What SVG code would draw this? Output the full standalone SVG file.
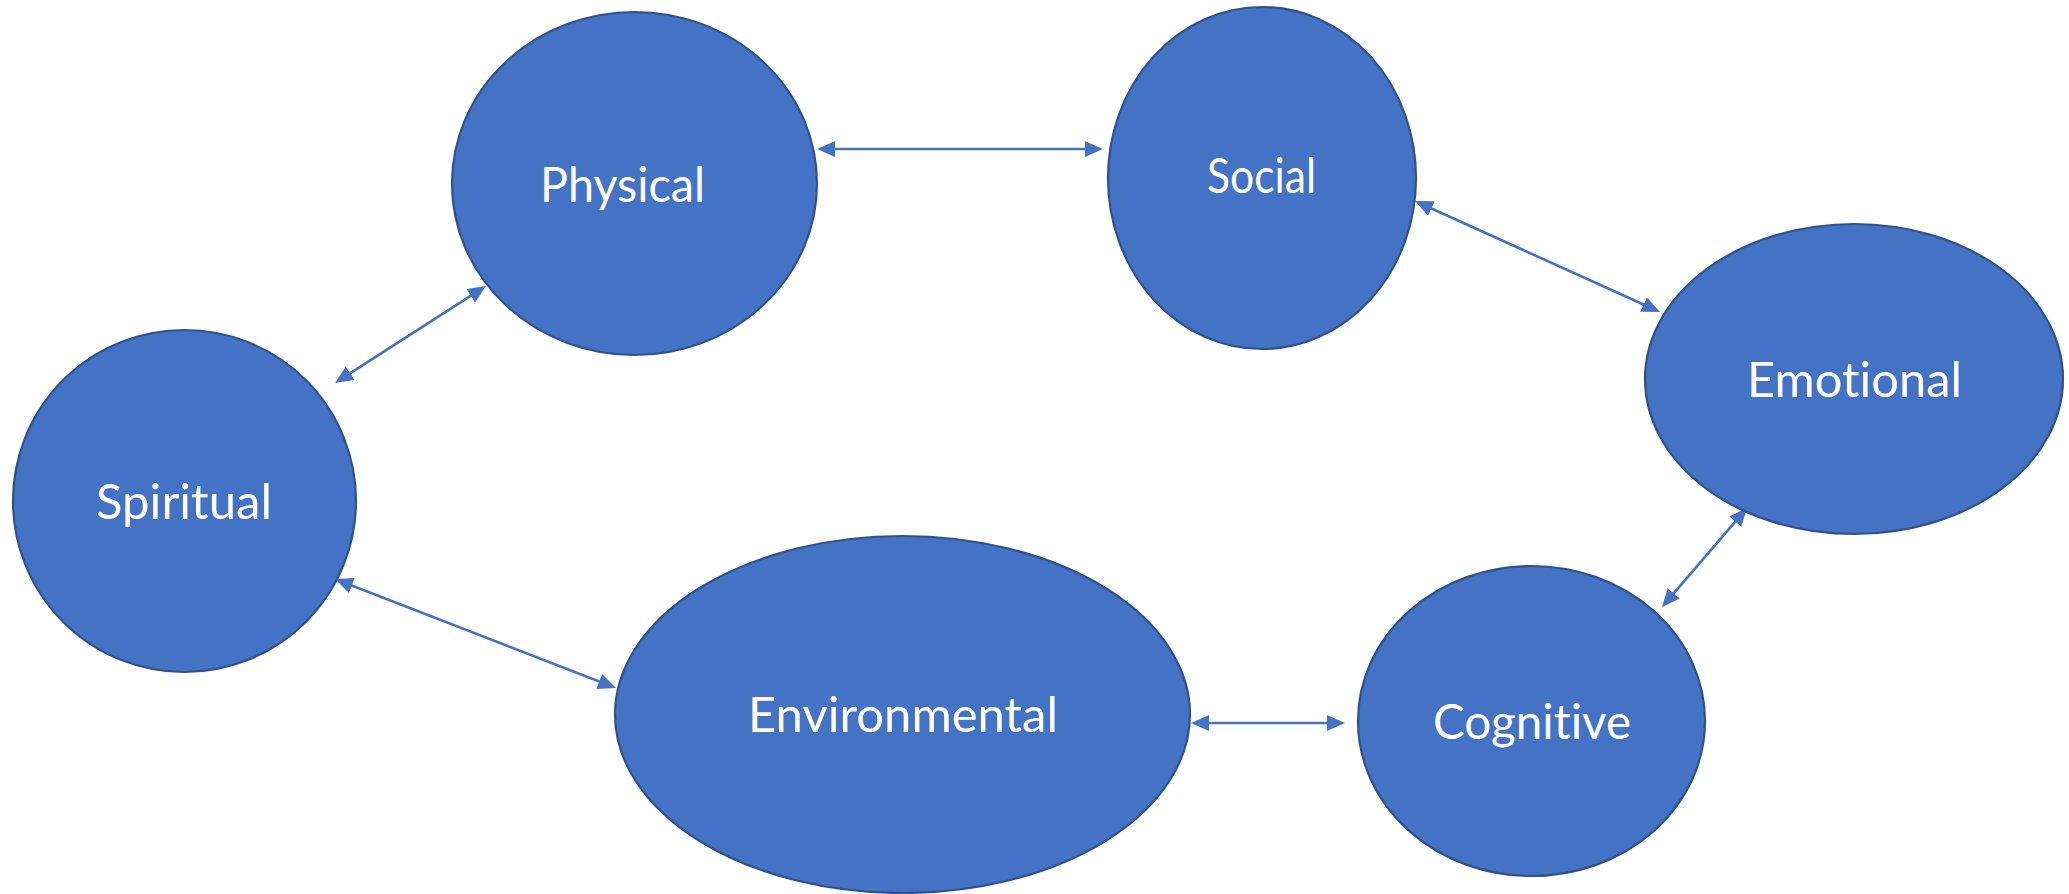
<svg xmlns="http://www.w3.org/2000/svg" width="2069" height="894" viewBox="0 0 2069 894">
<style>
.node{fill:#4472C4;stroke:#2F528F;stroke-width:2.2}
.lbl{fill:#FFFFFF;font-family:Lato,"Open Sans","Liberation Sans",sans-serif;font-size:48px;text-anchor:middle;font-variant-ligatures:none}
.conn{stroke:#4472C4;stroke-width:2.6;fill:none;marker-start:url(#ah);marker-end:url(#ah)}
</style>
<defs>
<marker id="ah" markerUnits="userSpaceOnUse" markerWidth="19" markerHeight="17" refX="9" refY="8" orient="auto-start-reverse" viewBox="0 0 19 17">
<path d="M0,0 L18,8 L0,16 z" fill="#4472C4"/>
</marker>
</defs>
<rect width="2069" height="894" fill="#FFFFFF"/>
<g id="connectors">
<line class="conn" x1="826" y1="149" x2="1094" y2="149"/>
<line class="conn" x1="1423.2" y1="204.7" x2="1651.8" y2="308.3"/>
<line class="conn" x1="1741.1" y1="514.8" x2="1667.9" y2="600.2"/>
<line class="conn" x1="1200" y1="723" x2="1336" y2="723"/>
<line class="conn" x1="343.4" y1="582.3" x2="607.6" y2="684.7"/>
<line class="conn" x1="342.6" y1="378.1" x2="478.4" y2="290.9"/>
</g>
<g id="physical">
<ellipse class="node" cx="634.5" cy="183.5" rx="182.5" ry="171.5"/>
<text class="lbl" x="622.5" y="202" textLength="165" lengthAdjust="spacingAndGlyphs">Physical</text>
</g>
<g id="social">
<ellipse class="node" cx="1262" cy="178" rx="154" ry="171"/>
<text class="lbl" x="1261.5" y="193" textLength="109" lengthAdjust="spacingAndGlyphs">Social</text>
</g>
<g id="emotional">
<ellipse class="node" cx="1854" cy="379" rx="209" ry="155"/>
<text class="lbl" x="1854.5" y="397" textLength="215" lengthAdjust="spacingAndGlyphs">Emotional</text>
</g>
<g id="cognitive">
<ellipse class="node" cx="1531.5" cy="721" rx="173.5" ry="155"/>
<text class="lbl" x="1532" y="739" textLength="198" lengthAdjust="spacingAndGlyphs">Cognitive</text>
</g>
<g id="environmental">
<ellipse class="node" cx="902.5" cy="714.5" rx="287.5" ry="178.5"/>
<text class="lbl" x="903" y="732" textLength="310" lengthAdjust="spacingAndGlyphs">Environmental</text>
</g>
<g id="spiritual">
<ellipse class="node" cx="184.5" cy="501" rx="171.5" ry="171"/>
<text class="lbl" x="184" y="519" textLength="176" lengthAdjust="spacingAndGlyphs">Spiritual</text>
</g>
</svg>
